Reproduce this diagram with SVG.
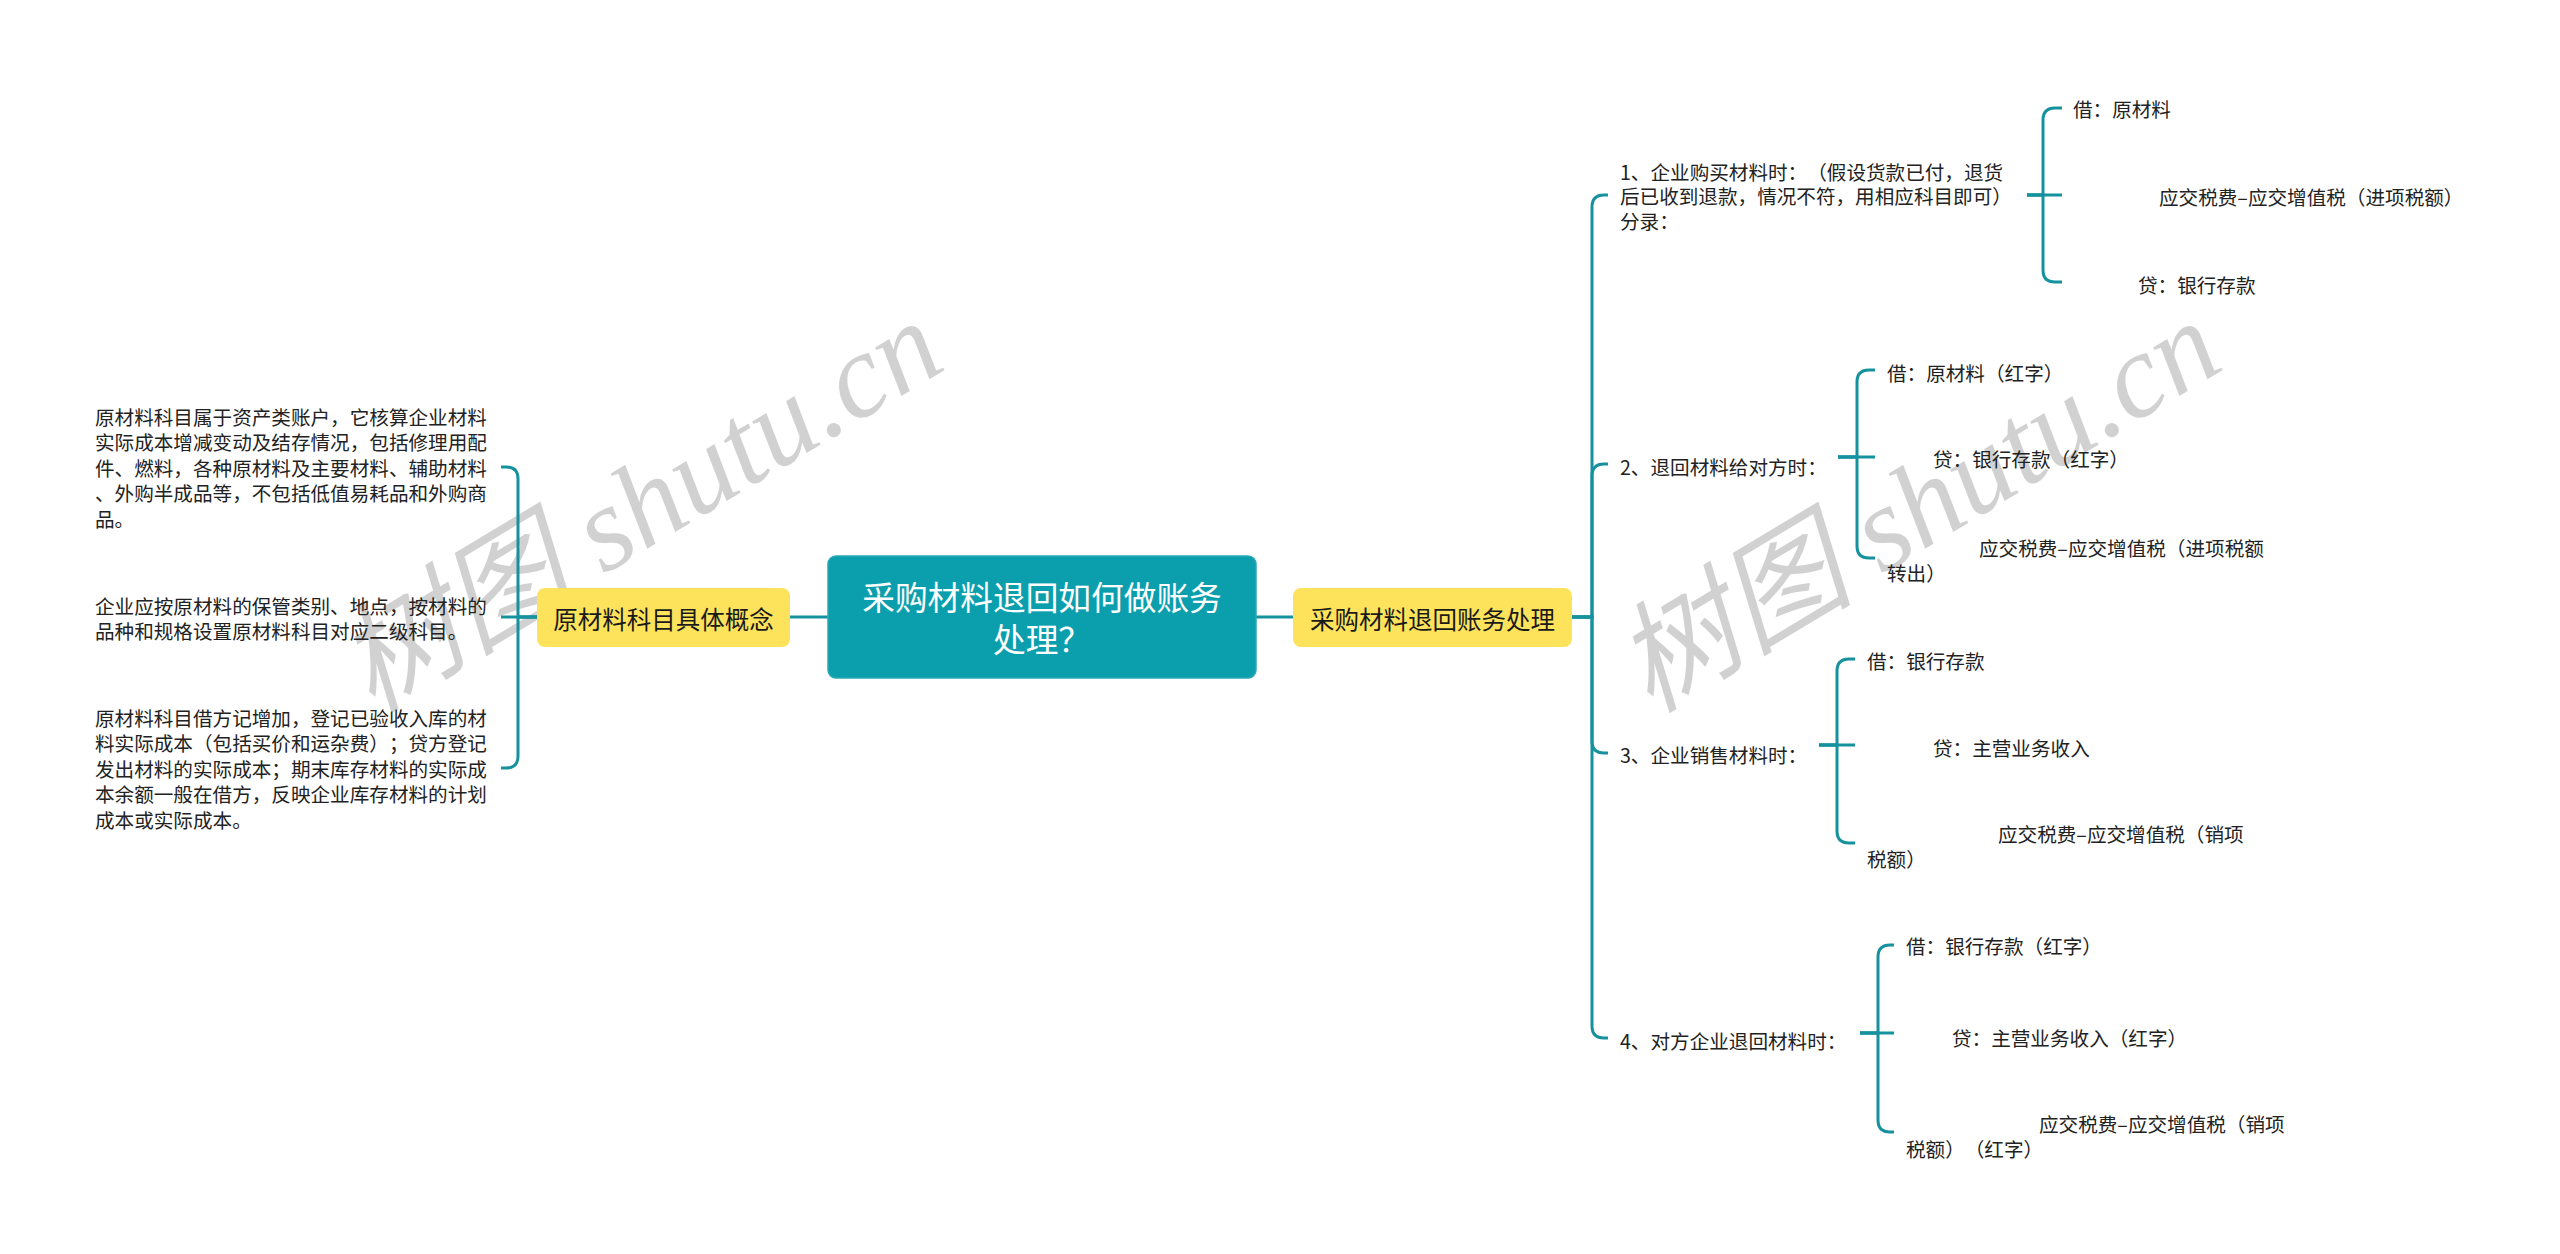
<svg xmlns="http://www.w3.org/2000/svg" width="2560" height="1254" viewBox="0 0 2560 1254">
<style>
.bg{fill:#ffffff}
.ln{fill:none;stroke:#16929f;stroke-width:3}
text{text-spacing-trim:space-all;font-feature-settings:"halt" 0,"chws" 0}
.t{font-family:"Noto Sans CJK SC","Noto Sans",sans-serif;font-size:19.6px;fill:#222222;dominant-baseline:central}
.yl{fill:#fde35c}
.yt{font-family:"Noto Sans CJK SC","Noto Sans",sans-serif;font-size:24.5px;fill:#1a1a1a;dominant-baseline:central;text-anchor:middle}
.ct{font-family:"Noto Sans CJK SC","Noto Sans",sans-serif;font-size:32.7px;fill:#ffffff;dominant-baseline:central;text-anchor:middle}
.wm{font-family:"Liberation Serif","Noto Sans CJK SC",serif;font-style:italic;font-size:120px;fill:#000000;fill-opacity:0.18}
</style>
<rect class="bg" x="0" y="0" width="2560" height="1254"/>
<g id="watermarks">
<text class="wm" transform="translate(372,714) rotate(-31)">树图 shutu.cn</text>
<text class="wm" transform="translate(1650,714) rotate(-31)">树图 shutu.cn</text>
</g>
<g id="connectors">
<path class="ln" d="M790,617 H828"/>
<path class="ln" d="M1256,617 H1293"/>
<path class="ln" d="M537,617 H518 V479 Q518,467 506,467 H501"/>
<path class="ln" d="M537,617 H501"/>
<path class="ln" d="M537,617 H518 V756 Q518,768 506,768 H501"/>
<path class="ln" d="M1572,617 H1592 V207 Q1592,195 1604,195 H1608"/>
<path class="ln" d="M1572,617 H1592 V476 Q1592,464 1604,464 H1608"/>
<path class="ln" d="M1572,617 H1592 V741 Q1592,753 1604,753 H1608"/>
<path class="ln" d="M1572,617 H1592 V1026 Q1592,1038 1604,1038 H1608"/>
<path class="ln" d="M2027,195 H2043 V120 Q2043,108 2055,108 H2062"/>
<path class="ln" d="M2027,195 H2062"/>
<path class="ln" d="M2027,195 H2043 V270 Q2043,282 2055,282 H2062"/>
<path class="ln" d="M1838,457 H1857 V382 Q1857,370 1869,370 H1875"/>
<path class="ln" d="M1838,457 H1875"/>
<path class="ln" d="M1838,457 H1857 V546 Q1857,558 1869,558 H1875"/>
<path class="ln" d="M1819,745 H1837 V671 Q1837,659 1849,659 H1855"/>
<path class="ln" d="M1819,745 H1855"/>
<path class="ln" d="M1819,745 H1837 V831 Q1837,843 1849,843 H1855"/>
<path class="ln" d="M1860,1033 H1878 V957 Q1878,945 1890,945 H1894"/>
<path class="ln" d="M1860,1033 H1894"/>
<path class="ln" d="M1860,1033 H1878 V1120 Q1878,1132 1890,1132 H1894"/>
</g>
<g id="center">
<rect x="828" y="556" width="428" height="122" rx="8" fill="#0b9fae" stroke="#2aa9b6" stroke-width="1.5"/>
<text class="ct" x="1042" y="595">采购材料退回如何做账务</text>
<text class="ct" x="1042" y="637">处理？</text>
</g>
<g id="left-main">
<rect class="yl" x="537" y="588" width="253" height="59" rx="8"/>
<text class="yt" x="663.5" y="618">原材料科目具体概念</text>
</g>
<g id="left-1">
<text class="t" x="95" y="416">原材料科目属于资产类账户，它核算企业材料</text>
<text class="t" x="95" y="441.5">实际成本增减变动及结存情况，包括修理用配</text>
<text class="t" x="95" y="467">件、燃料，各种原材料及主要材料、辅助材料</text>
<text class="t" x="95" y="492.5">、外购半成品等，不包括低值易耗品和外购商</text>
<text class="t" x="95" y="518">品。</text>
</g>
<g id="left-2">
<text class="t" x="95" y="605">企业应按原材料的保管类别、地点，按材料的</text>
<text class="t" x="95" y="630">品种和规格设置原材料科目对应二级科目。</text>
</g>
<g id="left-3">
<text class="t" x="95" y="717">原材料科目借方记增加，登记已验收入库的材</text>
<text class="t" x="95" y="742.5">料实际成本（包括买价和运杂费）；贷方登记</text>
<text class="t" x="95" y="768">发出材料的实际成本；期末库存材料的实际成</text>
<text class="t" x="95" y="793.5">本余额一般在借方，反映企业库存材料的计划</text>
<text class="t" x="95" y="819">成本或实际成本。</text>
</g>
<g id="right-main">
<rect class="yl" x="1293" y="588" width="279" height="59" rx="8"/>
<text class="yt" x="1432.5" y="618">采购材料退回账务处理</text>
</g>
<g id="b1">
<text class="t" x="1620" y="171">1、企业购买材料时：（假设货款已付，退货</text>
<text class="t" x="1620" y="195.5">后已收到退款，情况不符，用相应科目即可）</text>
<text class="t" x="1620" y="220">分录：</text>
</g>
<g id="b1-c1"><text class="t" x="2073" y="108">借：原材料</text></g>
<g id="b1-c2"><text class="t" x="2159" y="196">应交税费–应交增值税（进项税额）</text></g>
<g id="b1-c3"><text class="t" x="2138" y="284">贷：银行存款</text></g>
<g id="b2"><text class="t" x="1620" y="466">2、退回材料给对方时：</text></g>
<g id="b2-c1"><text class="t" x="1887" y="372">借：原材料（红字）</text></g>
<g id="b2-c2"><text class="t" x="1933" y="458">贷：银行存款（红字）</text></g>
<g id="b2-c3">
<text class="t" x="1979" y="547">应交税费–应交增值税（进项税额</text>
<text class="t" x="1887" y="572">转出）</text>
</g>
<g id="b3"><text class="t" x="1620" y="754">3、企业销售材料时：</text></g>
<g id="b3-c1"><text class="t" x="1867" y="660">借：银行存款</text></g>
<g id="b3-c2"><text class="t" x="1933" y="747">贷：主营业务收入</text></g>
<g id="b3-c3">
<text class="t" x="1998" y="833">应交税费–应交增值税（销项</text>
<text class="t" x="1867" y="858">税额）</text>
</g>
<g id="b4"><text class="t" x="1620" y="1040">4、对方企业退回材料时：</text></g>
<g id="b4-c1"><text class="t" x="1906" y="945">借：银行存款（红字）</text></g>
<g id="b4-c2"><text class="t" x="1952" y="1037">贷：主营业务收入（红字）</text></g>
<g id="b4-c3">
<text class="t" x="2039" y="1123">应交税费–应交增值税（销项</text>
<text class="t" x="1906" y="1148">税额）（红字）</text>
</g>
</svg>
